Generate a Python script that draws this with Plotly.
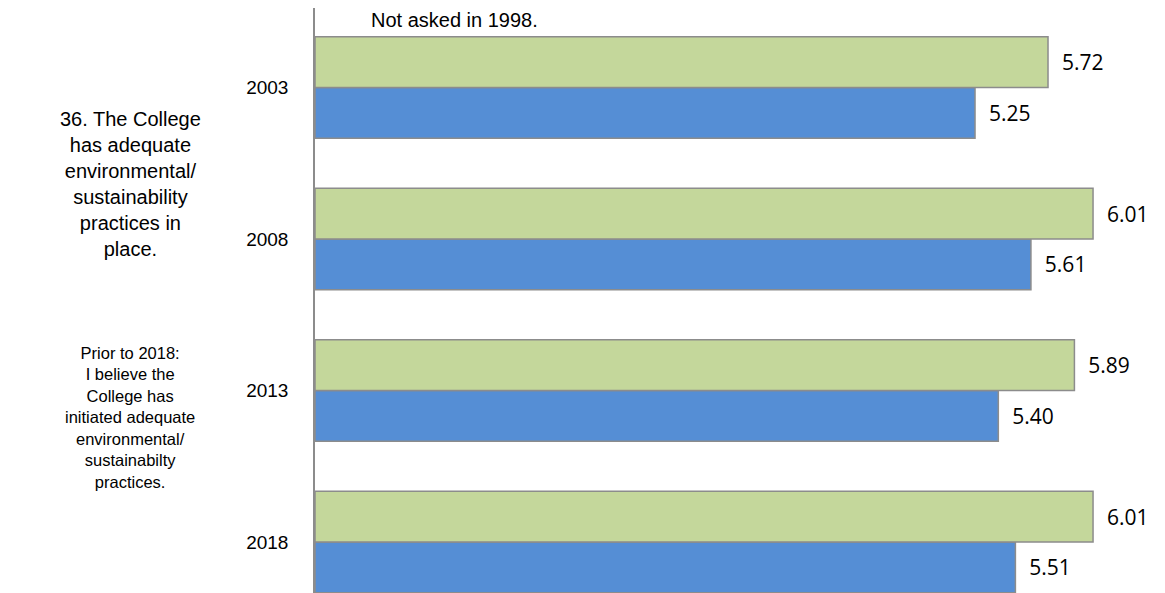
import plotly.graph_objects as go

years = ["2003", "2008", "2013", "2018"]
series_a = [5.72, 6.01, 5.89, 6.01]   # green (upper bar)
series_b = [5.25, 5.61, 5.40, 5.51]   # blue (lower bar)
category_order = ["2018", "2013", "2008", "2003"]
axis_min = 1

green = "#C4D79B"
blue = "#558ED5"
outline = "#8C8C8C"
pad = "\u00a0\u00a0"

label_font = dict(family="Open Sans", size=21, color="#000")

fig = go.Figure()
fig.add_trace(go.Bar(y=years, x=[v - axis_min for v in series_b], base=axis_min, orientation="h",
                     marker=dict(color=blue, line=dict(color=outline, width=1.5)),
                     text=[pad + f"{v:.2f}" for v in series_b], textposition="outside",
                     constraintext="none", cliponaxis=False, textfont=label_font,
                     name="B", hoverinfo="skip"))
fig.add_trace(go.Bar(y=years, x=[v - axis_min for v in series_a], base=axis_min, orientation="h",
                     marker=dict(color=green, line=dict(color=outline, width=1.5)),
                     text=[pad + f"{v:.2f}" for v in series_a], textposition="outside",
                     constraintext="none", cliponaxis=False, textfont=label_font,
                     name="A", hoverinfo="skip"))

W, H = 1157, 585   # page body adds 8px offset
L = 307
annotations = [
    dict(x=(361 - L) / (W - L), y=1 - (20 - 8) / H, xref="paper", yref="paper",
         text="Not asked in 1998.", xanchor="left", yanchor="middle", showarrow=False,
         font=dict(family="Liberation Sans", size=20, color="#000")),
    dict(x=(122 - L) / (W - L), y=1 - (176) / H, xref="paper", yref="paper",
         text="36. The College<br>has adequate<br>environmental/<br>sustainability<br>practices in<br>place.",
         xanchor="center", yanchor="middle", align="center", showarrow=False,
         font=dict(family="Liberation Sans", size=20, color="#000")),
    dict(x=(122 - L) / (W - L), y=1 - (409) / H, xref="paper", yref="paper",
         text="Prior to 2018:<br>I believe the<br>College has<br>initiated adequate<br>environmental/<br>sustainabilty<br>practices.",
         xanchor="center", yanchor="middle", align="center", showarrow=False,
         font=dict(family="Liberation Sans", size=16.5, color="#000")),
]

fig.update_layout(
    width=W, height=H,
    margin=dict(l=L, r=0, t=0, b=0),
    paper_bgcolor="white", plot_bgcolor="white",
    barmode="group", bargap=0.33, bargroupgap=0,
    showlegend=False,
    annotations=annotations,
    xaxis=dict(range=[axis_min, axis_min + 850 / 155.3], showgrid=False, zeroline=False,
               showticklabels=False, ticks="", showline=False, fixedrange=True),
    yaxis=dict(type="category", categoryorder="array", categoryarray=category_order,
               range=[-0.337, 3.525], showgrid=False, zeroline=False,
               showline=True, linecolor="#8C8C8C", linewidth=1.5,
               ticks="", ticklabelstandoff=21,
               tickfont=dict(family="Liberation Sans", size=19, color="#000")),
)

fig.write_html("out.html")
